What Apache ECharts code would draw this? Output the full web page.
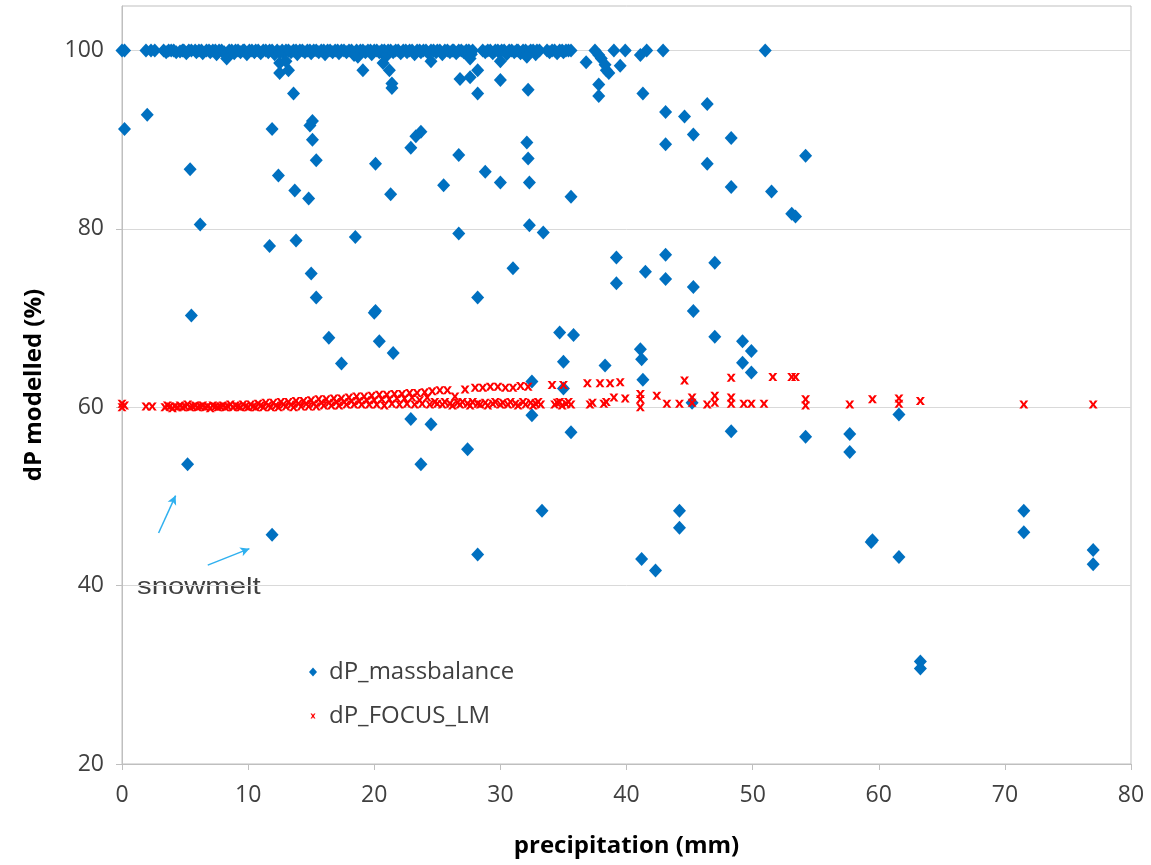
<!DOCTYPE html>
<html>
<head>
<meta charset="utf-8">
<script src="https://cdn.jsdelivr.net/npm/echarts@6/dist/echarts.min.js"></script>
<style>
  html, body { margin: 0; padding: 0; background: #fff; }
  #app { width: 1151px; height: 865px; }
</style>
</head>
<body>
<div id="app"></div>
<script>
// axis ranges
const xTicks = [0, 10, 20, 30, 40, 50, 60, 70, 80];
const yTicks = [20, 40, 60, 80, 100];
const yTop = 105;

// dP_massbalance, the band at ~100 %: [precipitation mm, dP %]
const massbalanceTop = [
  [0.0, 100], [0.2, 100], [1.9, 100], [2.3, 100], [2.6, 100], [3.3, 100], [3.5, 99.8], [3.7, 100],
  [3.9, 100], [4.1, 100], [4.3, 99.8], [4.6, 99.9], [4.8, 100], [4.9, 100], [5.1, 99.7], [5.3, 100],
  [5.5, 100], [5.8, 100], [5.9, 99.8], [6.1, 100], [6.3, 100], [6.4, 99.7], [6.7, 100], [6.9, 100],
  [7.0, 99.8], [7.2, 100], [7.4, 100], [7.5, 99.6], [7.7, 100], [7.9, 100], [8.1, 99.8], [8.3, 99.1],
  [8.5, 100], [8.7, 100], [8.9, 99.7], [9.0, 100], [9.2, 100], [9.4, 99.8], [9.6, 100], [9.7, 100],
  [9.9, 99.6], [10.1, 100], [10.3, 100], [10.5, 99.8], [10.6, 100], [10.8, 100], [11.0, 99.7], [11.2, 100],
  [11.4, 100], [11.6, 99.8], [11.7, 100], [11.9, 100], [12.1, 99.6], [12.3, 100], [12.5, 99.8], [12.7, 100],
  [12.8, 99.7], [13.0, 100], [13.2, 100], [13.4, 99.8], [13.6, 100], [13.8, 100], [13.9, 99.6], [14.1, 100],
  [14.3, 100], [14.5, 99.8], [14.7, 100], [14.9, 100], [15.0, 99.7], [15.2, 100], [15.4, 100], [15.6, 99.8],
  [15.8, 100], [16.0, 100], [16.1, 99.6], [16.3, 100], [16.5, 100], [16.7, 99.8], [16.9, 100], [17.1, 100],
  [17.2, 99.7], [17.4, 100], [17.6, 100], [17.8, 99.8], [18.0, 100], [18.2, 100], [18.4, 99.5], [18.6, 100],
  [18.7, 99.3], [18.9, 100], [19.1, 100], [19.3, 99.8], [19.5, 100], [19.7, 100], [19.8, 99.6], [20.0, 100],
  [20.2, 100], [20.4, 99.8], [20.6, 100], [20.8, 100], [20.9, 99.3], [21.1, 100], [21.3, 100], [21.5, 99.8],
  [21.7, 100], [21.9, 100], [22.1, 99.7], [22.3, 100], [22.5, 100], [22.6, 99.8], [22.8, 100], [23.0, 100],
  [23.2, 99.6], [23.4, 100], [23.6, 100], [23.7, 99.8], [23.9, 100], [24.1, 100], [24.3, 99.7], [24.5, 100],
  [24.7, 100], [24.9, 99.8], [25.0, 100], [25.2, 100], [25.4, 99.6], [25.6, 100], [25.8, 100], [26.0, 99.8],
  [26.2, 100], [26.3, 100], [26.5, 99.7], [26.7, 100], [26.9, 100], [27.1, 99.8], [27.3, 100], [27.5, 100],
  [27.7, 99.6], [27.8, 100], [28.6, 100], [28.8, 99.8], [29.0, 100], [29.2, 100], [29.4, 99.7], [29.6, 100],
  [29.8, 100], [29.9, 99.8], [30.1, 100], [30.3, 100], [30.5, 99.6], [30.7, 100], [30.9, 100], [31.1, 99.8],
  [31.3, 100], [31.4, 100], [31.6, 99.7], [31.8, 100], [32.0, 100], [32.2, 99.8], [32.4, 100], [32.6, 100],
  [32.8, 99.6], [32.9, 100], [33.1, 100], [33.7, 100], [33.9, 99.8], [34.1, 100], [34.3, 100], [34.5, 99.7],
  [34.7, 100], [34.9, 100], [35.0, 99.8], [35.2, 100], [35.4, 100], [35.6, 100], [37.5, 100], [39.0, 100],
  [39.9, 100], [41.6, 100], [42.9, 100], [51.0, 100]
];

// dP_massbalance, the scattered points below the band
const massbalanceRest = [
  [12.5, 98.6], [13.0, 98.8], [12.5, 97.5], [13.2, 97.8], [13.6, 95.2], [19.1, 97.8], [20.7, 98.6], [21.2, 97.8],
  [21.4, 96.3], [21.4, 95.8], [24.5, 98.8], [27.6, 99.1], [26.8, 96.8], [27.6, 97.0], [28.2, 97.8], [28.2, 95.2],
  [30.0, 98.8], [30.0, 96.7], [32.1, 99.3], [32.2, 95.6], [36.8, 98.7], [37.8, 99.5], [38.0, 99.1], [38.3, 98.4],
  [38.4, 97.8], [38.6, 97.5], [37.8, 96.2], [37.8, 94.9], [39.5, 98.3], [41.1, 99.5], [41.3, 95.2], [43.1, 93.1],
  [44.6, 92.6], [46.4, 94.0], [45.3, 90.6], [48.3, 90.2], [43.1, 89.5], [46.4, 87.3], [48.3, 84.7], [51.5, 84.2],
  [54.2, 88.2], [53.1, 81.7], [53.4, 81.4],
  [0.2, 91.2], [2.0, 92.8], [5.4, 86.7], [11.9, 91.2], [15.1, 92.1], [14.9, 91.6], [15.1, 90.0], [15.4, 87.7],
  [12.4, 86.0], [13.7, 84.3], [14.8, 83.4], [20.1, 87.3], [21.3, 83.9], [22.9, 89.1], [23.3, 90.4], [23.7, 90.9],
  [25.5, 84.9], [26.7, 88.3], [28.8, 86.4], [30.0, 85.2], [32.1, 89.7], [32.2, 87.9], [32.3, 85.2], [35.6, 83.6],
  [6.2, 80.5], [11.7, 78.1], [13.8, 78.7], [18.5, 79.1], [26.7, 79.5], [15.0, 75.0], [15.4, 72.3], [5.5, 70.3],
  [20.0, 70.6], [20.1, 70.8], [16.4, 67.8], [20.4, 67.4], [21.5, 66.1], [17.4, 64.9], [32.3, 80.4], [33.4, 79.6],
  [31.0, 75.6], [28.2, 72.3], [39.2, 76.8], [39.2, 73.9], [41.5, 75.2], [43.1, 77.1], [43.1, 74.4], [45.3, 73.5],
  [45.3, 70.8], [47.0, 76.2], [47.0, 67.9], [34.7, 68.4], [35.8, 68.1], [35.0, 65.1], [38.3, 64.7], [41.1, 66.5],
  [41.2, 65.4], [41.3, 63.1], [49.2, 67.4], [49.9, 66.3], [49.2, 65.0], [49.9, 63.9], [32.5, 62.9], [35.0, 62.1],
  [32.5, 59.1], [35.6, 57.2], [48.3, 57.3], [27.4, 55.3], [45.2, 60.5], [54.2, 56.7], [22.9, 58.7], [24.5, 58.1],
  [5.2, 53.6], [23.7, 53.6], [11.9, 45.7], [33.3, 48.4], [28.2, 43.5], [41.2, 43.0], [42.3, 41.7], [44.2, 48.4],
  [44.2, 46.5], [57.7, 57.0], [57.7, 55.0], [61.6, 59.2], [59.5, 45.1], [59.4, 44.9], [61.6, 43.2], [63.3, 31.5],
  [63.3, 30.7], [71.5, 48.4], [71.5, 46.0], [77.0, 44.0], [77.0, 42.4]
];

// dP_FOCUS_LM: [precipitation mm, dP %]
const focusLM = [
  [0.0, 60.4], [0.0, 60.0], [0.2, 60.2], [1.9, 60.1], [2.4, 60.1], [3.4, 60.0], [3.6, 60.2], [3.8, 60.1],
  [4.0, 59.9], [4.2, 60.1], [4.4, 60.0], [4.6, 60.2], [4.8, 60.0], [5.0, 60.1], [5.2, 60.3], [5.4, 60.0],
  [5.6, 60.1], [5.8, 60.2], [6.0, 60.0], [6.2, 60.1], [6.4, 60.2], [6.6, 60.0], [6.8, 60.1], [7.0, 59.9],
  [7.2, 60.2], [7.4, 60.1], [7.6, 60.0], [7.8, 60.1], [8.0, 60.2], [8.2, 60.0], [8.4, 60.1], [8.6, 60.3],
  [8.8, 60.0], [9.0, 60.2], [9.2, 60.1], [9.4, 60.0], [9.6, 60.3], [9.8, 60.1], [10.0, 60.0], [10.2, 60.3],
  [10.4, 60.1], [10.6, 60.0], [10.8, 60.4], [11.0, 60.2], [11.2, 60.0], [11.4, 60.5], [11.6, 60.2], [11.8, 60.0],
  [12.0, 60.5], [12.2, 60.2], [12.4, 60.0], [12.6, 60.6], [12.8, 60.3], [13.0, 60.1], [13.2, 60.6], [13.4, 60.3],
  [13.6, 60.0], [13.8, 60.7], [14.0, 60.4], [14.2, 60.1], [14.4, 60.7], [14.6, 60.4], [14.8, 60.1], [15.0, 60.8],
  [15.2, 60.4], [15.4, 60.1], [15.6, 60.9], [15.8, 60.5], [16.0, 60.2], [16.2, 60.9], [16.4, 60.5], [16.6, 60.2],
  [16.8, 61.0], [17.0, 60.6], [17.2, 60.2], [17.4, 61.0], [17.6, 60.6], [17.8, 60.3], [18.0, 61.1], [18.2, 60.7],
  [18.4, 60.3], [18.6, 61.2], [18.8, 60.7], [19.0, 60.3], [19.2, 61.2], [19.4, 60.8], [19.6, 60.3], [19.8, 61.3],
  [20.0, 60.8], [20.2, 60.3], [20.4, 61.4], [20.6, 60.9], [20.8, 60.2], [21.0, 61.4], [21.2, 60.9], [21.4, 60.4],
  [21.6, 61.5], [21.8, 61.0], [22.0, 60.3], [22.2, 61.5], [22.4, 61.0], [22.6, 60.4], [22.8, 61.6], [23.0, 61.1],
  [23.2, 60.3], [23.4, 61.6], [23.6, 60.8], [23.8, 60.4], [24.0, 61.7], [24.2, 61.1], [24.4, 60.3], [24.6, 61.8],
  [24.8, 60.6], [25.0, 60.4], [25.2, 61.9], [25.4, 60.3], [25.6, 60.6], [25.8, 61.9], [26.0, 60.4], [26.2, 60.2],
  [26.4, 61.2], [26.6, 60.5], [26.8, 60.3], [27.0, 60.6], [27.2, 62.0], [27.4, 60.4], [27.6, 60.2], [27.8, 60.6],
  [28.0, 62.2], [28.2, 60.4], [28.4, 60.3], [28.6, 62.2], [28.8, 60.5], [29.0, 60.2], [29.2, 62.3], [29.4, 60.4],
  [29.6, 60.6], [29.8, 62.3], [30.0, 60.3], [30.2, 60.5], [30.4, 62.2], [30.6, 60.3], [30.8, 60.6], [31.0, 62.2],
  [31.2, 60.4], [31.4, 60.2], [31.6, 62.4], [31.8, 60.6], [32.0, 60.3], [32.2, 62.3], [32.4, 60.5], [32.6, 60.2],
  [32.8, 60.4], [33.0, 60.6], [33.2, 60.3], [34.1, 62.5], [34.3, 60.3], [34.5, 60.5], [34.7, 60.6], [34.9, 60.2],
  [35.0, 62.5], [35.2, 60.4], [35.4, 60.6], [35.6, 60.3], [36.9, 62.7], [37.1, 60.3], [37.3, 60.5], [37.9, 62.7],
  [38.2, 60.4], [38.4, 60.6], [38.7, 62.7], [39.0, 61.1], [39.5, 62.8], [39.9, 61.0], [41.1, 61.5], [41.1, 60.9],
  [41.1, 60.0], [42.4, 61.3], [43.2, 60.4], [44.2, 60.4], [44.6, 63.0], [45.2, 61.1], [45.2, 60.5], [46.4, 60.3],
  [47.0, 61.3], [47.0, 60.5], [48.3, 63.3], [48.3, 61.1], [48.3, 60.4], [49.3, 60.4], [49.9, 60.4], [50.9, 60.4],
  [51.6, 63.4], [53.1, 63.4], [53.4, 63.4], [54.2, 60.9], [54.2, 60.2], [57.7, 60.3], [59.5, 60.9], [61.6, 61.0],
  [61.6, 60.4], [63.3, 60.7], [71.5, 60.3], [77.0, 60.3]
];

// annotation: two arrows (from, to) in data units, and the note text
const snowArrows = [
  [[2.9, 45.9], [4.25, 50.1]],
  [[6.8, 42.3], [10.1, 44.15]]
];
const snowNote = 'snowmelt';

const font = '"Open Sans", "Noto Sans", sans-serif';
const xMark = 'path://M0,0L3,0L5,3.2L7,0L10,0L6.6,5L10,10L7,10L5,6.8L3,10L0,10L3.4,5Z';
// same mark with empty margin so the legend icon stays small
const xMarkLegend = 'path://M-3,-3M13,13M0,0L3,0L5,3.2L7,0L10,0L6.6,5L10,10L7,10L5,6.8L3,10L0,10L3.4,5Z';

const chart = echarts.init(document.getElementById('app'));

chart.setOption({
  animation: false,
  backgroundColor: '#fff',
  grid: {
    left: 122, right: 20, top: 6, bottom: 101,
    show: true, borderColor: '#bfbfbf', borderWidth: 1
  },
  xAxis: {
    type: 'value',
    min: xTicks[0], max: xTicks[xTicks.length - 1], interval: 10,
    name: 'precipitation (mm)',
    nameLocation: 'middle',
    nameGap: 70,
    nameTextStyle: { fontFamily: font, fontWeight: 'bold', fontSize: 24, color: '#000' },
    axisLine: { show: true, lineStyle: { color: '#bfbfbf' } },
    axisTick: { show: true, length: 6, lineStyle: { color: '#bfbfbf' } },
    splitLine: { show: false },
    axisLabel: { fontFamily: font, fontSize: 23, color: '#404040', margin: 20 }
  },
  yAxis: {
    type: 'value',
    min: yTicks[0], max: yTop, interval: 20,
    name: 'dP modelled (%)',
    nameLocation: 'middle',
    nameGap: 76,
    nameTextStyle: { fontFamily: font, fontWeight: 'bold', fontSize: 24, color: '#000' },
    axisLine: { show: true, lineStyle: { color: '#bfbfbf' } },
    axisTick: { show: true, length: 6, lineStyle: { color: '#bfbfbf' }, customValues: yTicks },
    splitLine: { show: true, lineStyle: { color: '#d9d9d9' } },
    axisLabel: {
      fontFamily: font, fontSize: 23, color: '#404040', margin: 18,
      customValues: yTicks,
      formatter: v => (yTicks.indexOf(v) >= 0 ? String(v) : '')
    }
  },
  legend: {
    orient: 'vertical',
    left: 304, top: 655,
    itemGap: 20,
    itemWidth: 8, itemHeight: 9,
    textStyle: { fontFamily: font, fontSize: 24, lineHeight: 24, color: '#404040', padding: [0, 0, 0, 7] },
    data: [
      { name: 'dP_massbalance', icon: 'diamond' },
      { name: 'dP_FOCUS_LM', icon: xMarkLegend }
    ]
  },
  graphic: [{
    type: 'text',
    left: 137, top: 575,
    scaleX: 1.22,
    style: { text: snowNote, font: '24px "Liberation Sans", sans-serif', fill: '#404040' }
  }],
  series: [
    {
      name: 'dP_massbalance',
      type: 'scatter',
      symbol: 'diamond',
      symbolSize: [13, 14],
      itemStyle: { color: '#0070c0', opacity: 1 },
      data: massbalanceTop.concat(massbalanceRest),
      markLine: {
        silent: true,
        animation: false,
        symbol: ['none', 'arrow'],
        symbolSize: [7, 9],
        label: { show: false },
        lineStyle: { color: '#2fb0ef', width: 1.5, type: 'solid' },
        emphasis: { disabled: true },
        data: snowArrows.map(a => [{ coord: a[0] }, { coord: a[1] }])
      }
    },
    {
      name: 'dP_FOCUS_LM',
      type: 'scatter',
      symbol: xMark,
      symbolSize: [9, 8],
      itemStyle: { color: '#ff0000', opacity: 1 },
      data: focusLM
    }
  ]
});
</script>
</body>
</html>
